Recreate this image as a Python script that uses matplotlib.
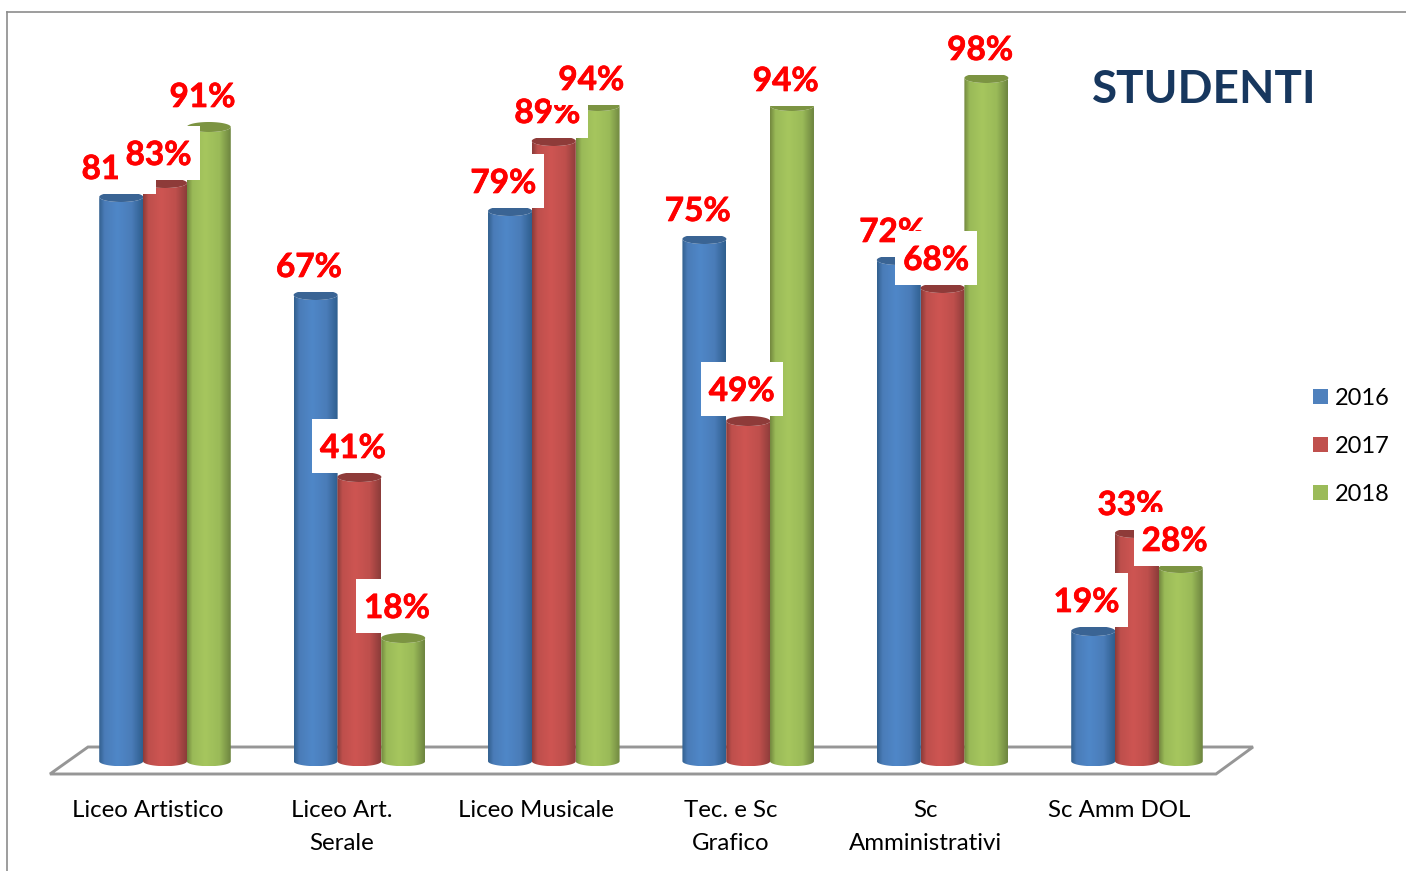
import numpy as np
import matplotlib
matplotlib.use("Agg")
import matplotlib.pyplot as plt
import matplotlib.patheffects as pe
from matplotlib.colors import LinearSegmentedColormap
from matplotlib.patches import Polygon, Rectangle
from matplotlib.lines import Line2D

plt.rcParams["font.family"] = ["Lato", "DejaVu Sans"]

# data
categories = ["Liceo Artistico", "Liceo Art.\nSerale", "Liceo Musicale",
              "Tec. e Sc\nGrafico", "Sc\nAmministrativi", "Sc Amm DOL"]
years = ["2016", "2017", "2018"]
v2016 = [81, 67, 79, 75, 72, 19]
v2017 = [83, 41, 89, 49, 68, 33]
v2018 = [91, 18, 94, 94, 98, 28]
series = [v2016, v2017, v2018]

# colours: dark edge, light middle, darker edge, lid, legend
BLUE = ["#33608F", "#4F87C8", "#4A7CB8", "#2F5F8F", "#3A6494", "#4F81BD"]
RED = ["#8C3C3A", "#CE5552", "#BE4F4C", "#8C3C3A", "#8E3B39", "#C0504D"]
GREEN = ["#74893F", "#A6C65E", "#9ABA58", "#6E8540", "#7C9442", "#9BBB59"]
COLORS = [BLUE, RED, GREEN]

W, H = 1406, 871
PX_X = 194.4      # pixels per category
PX_Y = 7.0        # pixels per percent
X0, Y0 = 165, 764 # pixel of the first category, pixel of 0%

fig = plt.figure(figsize=(W / 100, H / 100), dpi=100)
ax = fig.add_axes([0, 0, 1, 1])
ax.axis("off")


def fpx(x, y):
    return x / W, 1 - y / H


# frame of the picture
for xs, ys in [((7, 1406), (12, 12)), ((7, 7), (12, 871))]:
    fig.add_artist(Line2D([x / W for x in xs], [1 - y / H for y in ys],
                          color="#8c8c8c", lw=1.2))

# floor
floor = [(50, 774), (88, 747), (1253, 747), (1216, 774)]
ax.add_patch(Polygon([fpx(*p) for p in floor], closed=True, fill=False,
                     edgecolor="#969696", lw=2.1, transform=fig.transFigure,
                     zorder=1))

# cylinders
bar_w = 44 / PX_X
lid_h = 5 / PX_Y
base = 0.4
t = np.linspace(0, np.pi, 40)
for j, vals in enumerate(series):
    cs = COLORS[j]
    cmap = LinearSegmentedColormap.from_list(
        years[j], [(0, cs[0]), (0.12, cs[2]), (0.42, cs[1]), (0.75, cs[2]), (1, cs[3])])
    for i, v in enumerate(vals):
        cx = i + (j - 1) * bar_w * 0.995
        left, right = cx - bar_w / 2, cx + bar_w / 2
        ex = cx - bar_w / 2 * np.cos(t)
        bottom = base - lid_h * np.sin(t)
        top_arc = v + lid_h * np.sin(t)
        low_arc = v - lid_h * np.sin(t)
        body = Polygon(np.vstack([[[left, v], [left, base]],
                                  np.column_stack([ex, bottom]),
                                  [[right, base], [right, v]],
                                  np.column_stack([ex[::-1], low_arc[::-1]])]),
                       closed=True, facecolor="none", edgecolor="none",
                       transform=ax.transData)
        ax.add_patch(body)
        im = ax.imshow(np.linspace(0, 1, 64).reshape(1, -1), cmap=cmap, vmin=0, vmax=1,
                       extent=(left, right, base - lid_h, v + lid_h), aspect="auto",
                       zorder=2 + j, interpolation="bilinear")
        im.set_clip_path(body)
        ax.add_patch(Polygon(np.vstack([np.column_stack([ex, top_arc]),
                                        np.column_stack([ex[::-1], low_arc[::-1]])]),
                             closed=True, facecolor=cs[4], edgecolor="none",
                             zorder=2 + j))

# data labels with their white boxes
box_w = 82 / PX_X
box_h = 54 / PX_Y
dx = -6.5 / PX_X
dy = 30 / PX_Y
# the labels of the tall green bars sit a little off the usual distance (px)
nudge = {(2, 0): 2, (2, 2): -2, (2, 3): -3, (1, 1): 1, (1, 3): 2, (2, 1): 2, (0, 5): 1, (2, 5): -1}
for j, vals in enumerate(series):
    for i, v in enumerate(vals):
        cx = i + (j - 1) * bar_w + dx
        cy = v + dy + nudge.get((j, i), 0) / PX_Y
        ax.add_patch(Rectangle((cx - box_w / 2, cy - box_h / 2), box_w, box_h,
                               facecolor="white", edgecolor="none", zorder=10 + 2 * j))
        ax.text(cx, cy, f"{v}%", color="#ff0000", fontsize=24, fontweight="bold",
                ha="center", va="center_baseline", zorder=11 + 2 * j,
                path_effects=[pe.withStroke(linewidth=0.5, foreground="#ff0000")])

# category labels
for i, name in enumerate(categories):
    ax.text(i - 17.5 / PX_X, -(800 - Y0) / PX_Y, name, fontsize=17.3, color="black",
            ha="center", va="top", linespacing=1.68)

# legend
for j, y in enumerate(years):
    py = 397 + 48 * j
    fig.add_artist(Rectangle((1313 / W, 1 - (py + 7.5) / H), 15 / W, 15 / H,
                             facecolor=COLORS[j][5], edgecolor="none",
                             transform=fig.transFigure))
    fig.text(1335 / W, 1 - (py + 1) / H, y, fontsize=17, color="black", ha="left", va="center")

fig.text(1204.5 / W, 1 - 90 / H, "STUDENTI", fontsize=33, fontweight="bold",
         color="#17375E", ha="center", va="center")

ax.set_xlim(-X0 / PX_X, (W - X0) / PX_X)
ax.set_ylim(-(H - Y0) / PX_Y, Y0 / PX_Y)

fig.savefig("out.png", dpi=100, facecolor="white")
